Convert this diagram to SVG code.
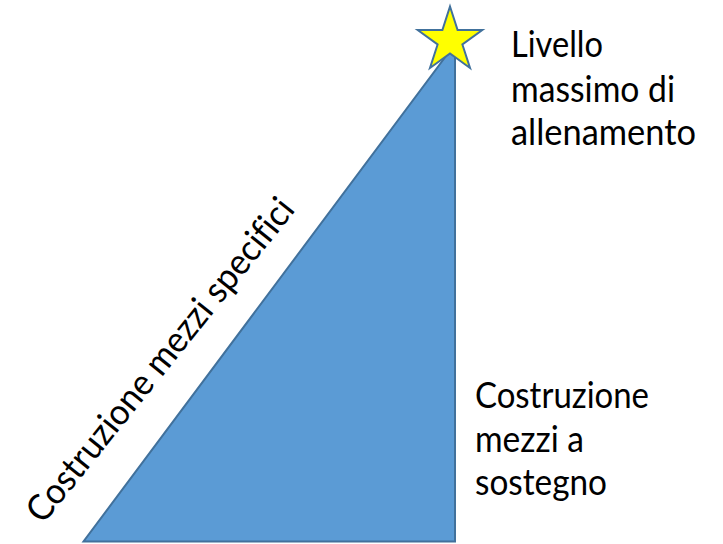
<svg xmlns="http://www.w3.org/2000/svg" width="723" height="544" viewBox="0 0 723 544">
<style>
text { font-family: Lato, "Liberation Sans", sans-serif; font-size: 36px; fill: #000; font-variant-ligatures: none; font-feature-settings: "liga" 0, "clig" 0; }
.shape { stroke: #41719C; stroke-width: 2; stroke-linejoin: miter; }
</style>
<rect width="723" height="544" fill="#fff"/>
<g id="triangle">
<polygon class="shape" fill="#5B9BD5" points="83.5,541.5 455,541.5 455,44"/>
</g>
<g id="star">
<polygon class="shape" fill="#FFFF00" stroke-width="2.5" points="450,6.5 457.6,30 482.3,30 462.4,44.5 470,68 450,53.5 430,68 437.6,44.5 417.7,30 442.4,30"/>
</g>
<g id="label-top">
<text x="511" y="57" textLength="92" lengthAdjust="spacingAndGlyphs">Livello</text>
<text x="511" y="101.5" textLength="164" lengthAdjust="spacingAndGlyphs">massimo di</text>
<text x="511" y="145" textLength="185" lengthAdjust="spacingAndGlyphs">allenamento</text>
</g>
<g id="label-right">
<text x="475" y="408" textLength="174" lengthAdjust="spacingAndGlyphs">Costruzione</text>
<text x="475" y="451.5" textLength="109" lengthAdjust="spacingAndGlyphs">mezzi a</text>
<text x="475" y="495" textLength="132" lengthAdjust="spacingAndGlyphs">sostegno</text>
</g>
<g id="label-diagonal">
<text transform="translate(43,525) rotate(-51.2)" textLength="404" lengthAdjust="spacingAndGlyphs">Costruzione mezzi specifici</text>
</g>
</svg>
